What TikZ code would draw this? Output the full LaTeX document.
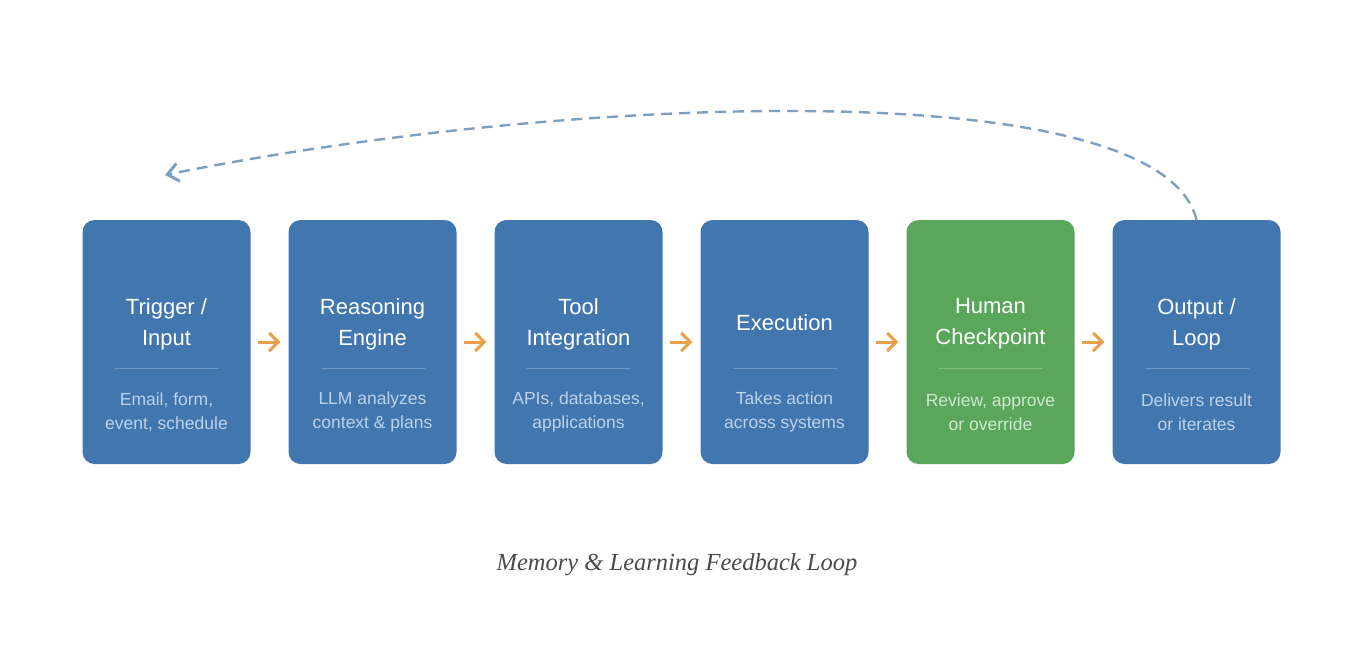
\documentclass[tikz,border=0pt]{standalone}
\usepackage{fontspec}
\setmainfont{Liberation Sans}
\newfontfamily\capfont{Liberation Serif}
\usetikzlibrary{arrows.meta}
\definecolor{boxblue}{HTML}{4176AF}
\definecolor{boxgreen}{HTML}{5AA75C}
\definecolor{descblue}{HTML}{BDD2EA}
\definecolor{descgreen}{HTML}{CFE8CF}
\definecolor{sepblue}{HTML}{6F98C6}
\definecolor{sepgreen}{HTML}{82BF83}
\definecolor{flowor}{HTML}{E8A04A}
\definecolor{loopcol}{HTML}{7F9FC0}
\definecolor{capcol}{HTML}{4A4A4A}
\tikzset{
  stagebox/.style={rounded corners=12pt, minimum width=168pt, minimum height=244pt, inner sep=0pt, draw=none},
  titletext/.style={text=white, align=center, font=\fontsize{22}{31}\selectfont, inner sep=0pt},
  desctext/.style={align=center, font=\fontsize{17.5}{24}\selectfont, inner sep=0pt},
  flow/.style={draw=flowor, line width=3pt, -{Straight Barb[length=9pt,width=18pt,line width=3pt]}, shorten <=7pt, shorten >=8pt},
  loop/.style={draw=loopcol, line width=2.4pt, dash pattern=on 11pt off 7pt, -{Straight Barb[length=11pt,width=18pt,line width=3pt]}},
}
\begin{document}
\begin{tikzpicture}[x=1pt,y=-1pt]
\useasboundingbox (0,0) rectangle (1370,648);
\fill[white] (0,0) rectangle (1370,648);
% boxes
\foreach \i/\col in {1/boxblue,2/boxblue,3/boxblue,4/boxblue,5/boxgreen,6/boxblue}{
  \node[stagebox, fill=\col] (b\i) at ({166.5+206*(\i-1)},342) {};
}
% titles
\node[titletext] (t1) at (b1.center |- 0,324) {Trigger /\\Input};
\node[titletext] (t2) at (b2.center |- 0,324) {Reasoning\\Engine};
\node[titletext] (t3) at (b3.center |- 0,324) {Tool\\Integration};
\node[titletext] (t4) at (b4.center |- 0,323) {Execution};
\node[titletext] (t5) at (b5.center |- 0,324) {Human\\Checkpoint};
\node[titletext] (t6) at (b6.center |- 0,324) {Output /\\Loop};
% separators
\foreach \i/\sc in {1/sepblue,2/sepblue,3/sepblue,4/sepblue,5/sepgreen,6/sepblue}{
  \draw[\sc, line width=0.8pt] ([xshift=-52pt]b\i.center |- 0,368) -- ([xshift=52pt]b\i.center |- 0,368);
}
% descriptions
\node[desctext, text=descblue] (d1) at (b1.center |- 0,412) {Email, form,\\event, schedule};
\node[desctext, text=descblue] (d2) at (b2.center |- 0,412) {LLM analyzes\\context \& plans};
\node[desctext, text=descblue] (d3) at (b3.center |- 0,412) {APIs, databases,\\applications};
\node[desctext, text=descblue] (d4) at (b4.center |- 0,412) {Takes action\\across systems};
\node[desctext, text=descgreen] (d5) at (b5.center |- 0,412) {Review, approve\\or override};
\node[desctext, text=descblue] (d6) at (b6.center |- 0,412) {Delivers result\\or iterates};
% flow arrows
\foreach \a/\b in {1/2,2/3,3/4,4/5,5/6}{
  \draw[flow] (b\a.east) -- (b\b.west);
}
% feedback loop
\coordinate (fbend) at (165,175);
\draw[loop] (b6.north) .. controls (1160,70) and (560,95) .. (fbend);
% caption
\node[text=capcol, font=\capfont\itshape\fontsize{24.5}{28}\selectfont, inner sep=0pt] (cap) at (677,565) {Memory \& Learning Feedback Loop};
\end{tikzpicture}
\end{document}
